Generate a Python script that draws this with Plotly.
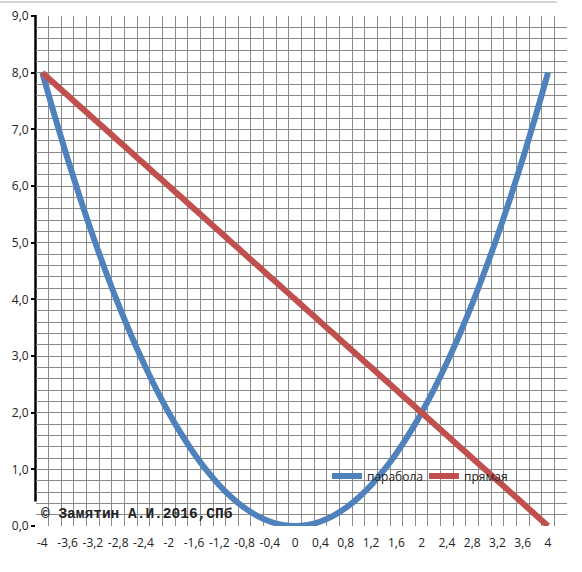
import plotly.graph_objects as go

# x values (category axis, step 0.2)
x_vals = [-4.0, -3.8, -3.6, -3.4, -3.2, -3.0, -2.8, -2.6, -2.4, -2.2, -2.0,
          -1.8, -1.6, -1.4, -1.2, -1.0, -0.8, -0.6, -0.4, -0.2, 0.0,
          0.2, 0.4, 0.6, 0.8, 1.0, 1.2, 1.4, 1.6, 1.8, 2.0,
          2.2, 2.4, 2.6, 2.8, 3.0, 3.2, 3.4, 3.6, 3.8, 4.0]

# парабола values
parabola = [8.0, 7.22, 6.48, 5.78, 5.12, 4.5, 3.92, 3.38, 2.88, 2.42, 2.0,
            1.62, 1.28, 0.98, 0.72, 0.5, 0.32, 0.18, 0.08, 0.02, 0.0,
            0.02, 0.08, 0.18, 0.32, 0.5, 0.72, 0.98, 1.28, 1.62, 2.0,
            2.42, 2.88, 3.38, 3.92, 4.5, 5.12, 5.78, 6.48, 7.22, 8.0]

# прямая values
line_vals = [8.0, 7.8, 7.6, 7.4, 7.2, 7.0, 6.8, 6.6, 6.4, 6.2, 6.0,
             5.8, 5.6, 5.4, 5.2, 5.0, 4.8, 4.6, 4.4, 4.2, 4.0,
             3.8, 3.6, 3.4, 3.2, 3.0, 2.8, 2.6, 2.4, 2.2, 2.0,
             1.8, 1.6, 1.4, 1.2, 1.0, 0.8, 0.6, 0.4, 0.2, 0.0]

x_ticks = [-4, -3.6, -3.2, -2.8, -2.4, -2, -1.6, -1.2, -0.8, -0.4, 0,
           0.4, 0.8, 1.2, 1.6, 2, 2.4, 2.8, 3.2, 3.6, 4]
x_labels = ['-4', '-3,6', '-3,2', '-2,8', '-2,4', '-2', '-1,6', '-1,2', '-0,8', '-0,4', '0',
            '0,4', '0,8', '1,2', '1,6', '2', '2,4', '2,8', '3,2', '3,6', '4']
y_ticks = [0, 1, 2, 3, 4, 5, 6, 7, 8, 9]
y_labels = ['0,0', '1,0', '2,0', '3,0', '4,0', '5,0', '6,0', '7,0', '8,0', '9,0']

BLUE = '#4F81BD'
RED = '#C0504D'
GRID = '#8a8a8a'

# plot area in pixels: left 36, right 567, top 16, bottom 526
L, R, T, B = 36, 567, 16, 526
def px(xp):
    return (xp - L) / (R - L)
def py(yp):
    return (B - yp) / (B - T)

X_RANGE = [-4.1, 4.3]
Y_RANGE = [0, 9]

fig = go.Figure()
# empty trace so the gridline axes (x2/y2) get a subplot
fig.add_trace(go.Scatter(x=[], y=[], xaxis='x2', yaxis='y2', showlegend=False, hoverinfo='skip'))
fig.add_trace(go.Scatter(x=x_vals, y=parabola, name='парабола', mode='lines',
                         line=dict(color=BLUE, width=6, shape='spline')))
fig.add_trace(go.Scatter(x=x_vals, y=line_vals, name='прямая', mode='lines',
                         line=dict(color=RED, width=6, shape='spline')))

fig.update_layout(
    width=582, height=572,
    margin=dict(l=L, r=582 - R, t=T, b=572 - B, autoexpand=False),
    paper_bgcolor='white', plot_bgcolor='white',
    font=dict(family='Open Sans', size=12, color='#222'),
    showlegend=True,
    legend=dict(orientation='h', x=px(327), y=py(476), xanchor='left', yanchor='middle',
                bgcolor='rgba(0,0,0,0)', borderwidth=0,
                font=dict(family='Open Sans', size=12, color='#222'),
                entrywidth=52, entrywidthmode='pixels', itemwidth=30),
    xaxis=dict(range=X_RANGE, tickmode='array', tickvals=x_ticks, ticktext=x_labels,
               showgrid=False, zeroline=False, showline=False, ticks='',
               automargin=False, ticklabelstandoff=8),
    yaxis=dict(range=Y_RANGE, tickmode='array', tickvals=y_ticks, ticktext=y_labels,
               showgrid=False, zeroline=False, automargin=False,
               showline=False, ticks='outside', ticklen=4, tickwidth=2, tickcolor='black'),
    # grid: columns between categories, rows every 0.2
    xaxis2=dict(range=X_RANGE, overlaying='x', anchor='y2', side='bottom',
                tickmode='linear', tick0=-4.1, dtick=0.2, showticklabels=False,
                showgrid=True, gridcolor=GRID, gridwidth=1, zeroline=False,
                showline=False, ticks='', automargin=False),
    yaxis2=dict(range=Y_RANGE, overlaying='y', anchor='x2', side='left',
                tickmode='linear', tick0=0, dtick=0.2, showticklabels=False,
                showgrid=True, gridcolor=GRID, gridwidth=1, zeroline=False,
                showline=False, ticks='', automargin=False),
    shapes=[
        # white box behind the signature
        dict(type='rect', xref='paper', yref='paper', layer='between',
             x0=px(33), x1=px(240), y0=py(527.5), y1=py(501.5),
             fillcolor='white', line=dict(width=0)),
        # black value axis (stops at the box)
        dict(type='line', xref='paper', yref='paper', layer='between',
             x0=px(35.5), x1=px(35.5), y0=py(501.5), y1=py(15),
             line=dict(color='black', width=2.5)),
        # outer chart frame top edge
        dict(type='line', xref='paper', yref='paper',
             x0=px(0), x1=px(557), y0=py(2), y1=py(2),
             line=dict(color='#a8a8a8', width=1)),
    ],
    annotations=[
        dict(text='© Замятин А.И.2016,СПб', xref='paper', yref='paper',
             x=px(39), y=py(514), xanchor='left', yanchor='middle', showarrow=False,
             font=dict(family='Liberation Mono', size=14.5, color='#222', weight='bold')),
    ],
)

fig.write_html("out.html", config={'displayModeBar': False},
               post_script="document.body.style.margin='0';")
